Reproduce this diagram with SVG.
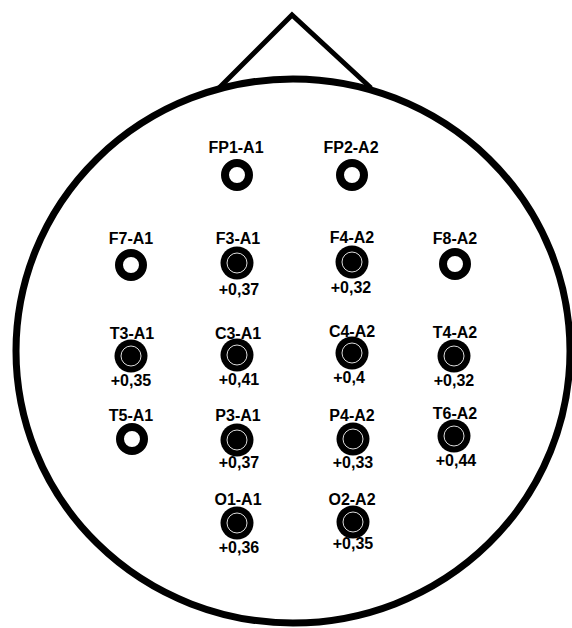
<svg xmlns="http://www.w3.org/2000/svg" width="572" height="628" viewBox="0 0 572 628">
<style>
.head{fill:none;stroke:#000;stroke-width:7}
.nose{fill:none;stroke:#000;stroke-width:5;stroke-linejoin:miter}
.ring{fill:#fff;stroke:#000;stroke-width:8}
.dot{fill:#000}
.inner{fill:none;stroke:#ddd;stroke-width:1}
text{font-family:"Liberation Sans",Arial,sans-serif;font-weight:bold;font-size:16px;fill:#000;text-anchor:middle}
</style>
<rect width="572" height="628" fill="#fff"/>
<g id="head">
<polyline class="nose" points="219,88 292,15 371,88"/>
<ellipse class="head" cx="293" cy="351" rx="277" ry="272"/>
</g>
<g id="connectors"></g>
<g id="FP1-A1"><text x="236" y="153">FP1-A1</text><circle class="ring" cx="237" cy="175" r="12"/></g>
<g id="FP2-A2"><text x="351" y="153">FP2-A2</text><circle class="ring" cx="352" cy="175" r="12"/></g>
<g id="F7-A1"><text x="131" y="244">F7-A1</text><circle class="ring" cx="131" cy="265" r="12"/></g>
<g id="F3-A1"><text x="238" y="244">F3-A1</text><circle class="dot" cx="237" cy="263" r="16.5"/><circle class="inner" cx="237" cy="263" r="10"/><text x="239" y="295">+0,37</text></g>
<g id="F4-A2"><text x="352" y="243">F4-A2</text><circle class="dot" cx="352" cy="262" r="16.5"/><circle class="inner" cx="352" cy="262" r="10"/><text x="351" y="293">+0,32</text></g>
<g id="F8-A2"><text x="455" y="244">F8-A2</text><circle class="ring" cx="455" cy="264" r="12"/></g>
<g id="T3-A1"><text x="132" y="339">T3-A1</text><circle class="dot" cx="131" cy="356" r="16.5"/><circle class="inner" cx="131" cy="356" r="10"/><text x="131" y="386">+0,35</text></g>
<g id="C3-A1"><text x="238" y="339">C3-A1</text><circle class="dot" cx="237" cy="355" r="16.5"/><circle class="inner" cx="237" cy="355" r="10"/><text x="239" y="385">+0,41</text></g>
<g id="C4-A2"><text x="352" y="337">C4-A2</text><circle class="dot" cx="352" cy="353" r="16.5"/><circle class="inner" cx="352" cy="353" r="10"/><text x="349" y="383">+0,4</text></g>
<g id="T4-A2"><text x="455" y="338">T4-A2</text><circle class="dot" cx="454" cy="356" r="16.5"/><circle class="inner" cx="454" cy="356" r="10"/><text x="454" y="386">+0,32</text></g>
<g id="T5-A1"><text x="131" y="421">T5-A1</text><circle class="ring" cx="132" cy="439" r="12"/></g>
<g id="P3-A1"><text x="238" y="421">P3-A1</text><circle class="dot" cx="237" cy="440" r="16.5"/><circle class="inner" cx="237" cy="440" r="10"/><text x="239" y="468">+0,37</text></g>
<g id="P4-A2"><text x="352" y="421">P4-A2</text><circle class="dot" cx="353" cy="439" r="16.5"/><circle class="inner" cx="353" cy="439" r="10"/><text x="353" y="468">+0,33</text></g>
<g id="T6-A2"><text x="455" y="419">T6-A2</text><circle class="dot" cx="454" cy="436" r="16.5"/><circle class="inner" cx="454" cy="436" r="10"/><text x="456" y="466">+0,44</text></g>
<g id="O1-A1"><text x="238" y="505">O1-A1</text><circle class="dot" cx="237" cy="523" r="16.5"/><circle class="inner" cx="237" cy="523" r="10"/><text x="239" y="553">+0,36</text></g>
<g id="O2-A2"><text x="352" y="505">O2-A2</text><circle class="dot" cx="353" cy="522" r="16.5"/><circle class="inner" cx="353" cy="522" r="10"/><text x="353" y="549">+0,35</text></g>
</svg>
